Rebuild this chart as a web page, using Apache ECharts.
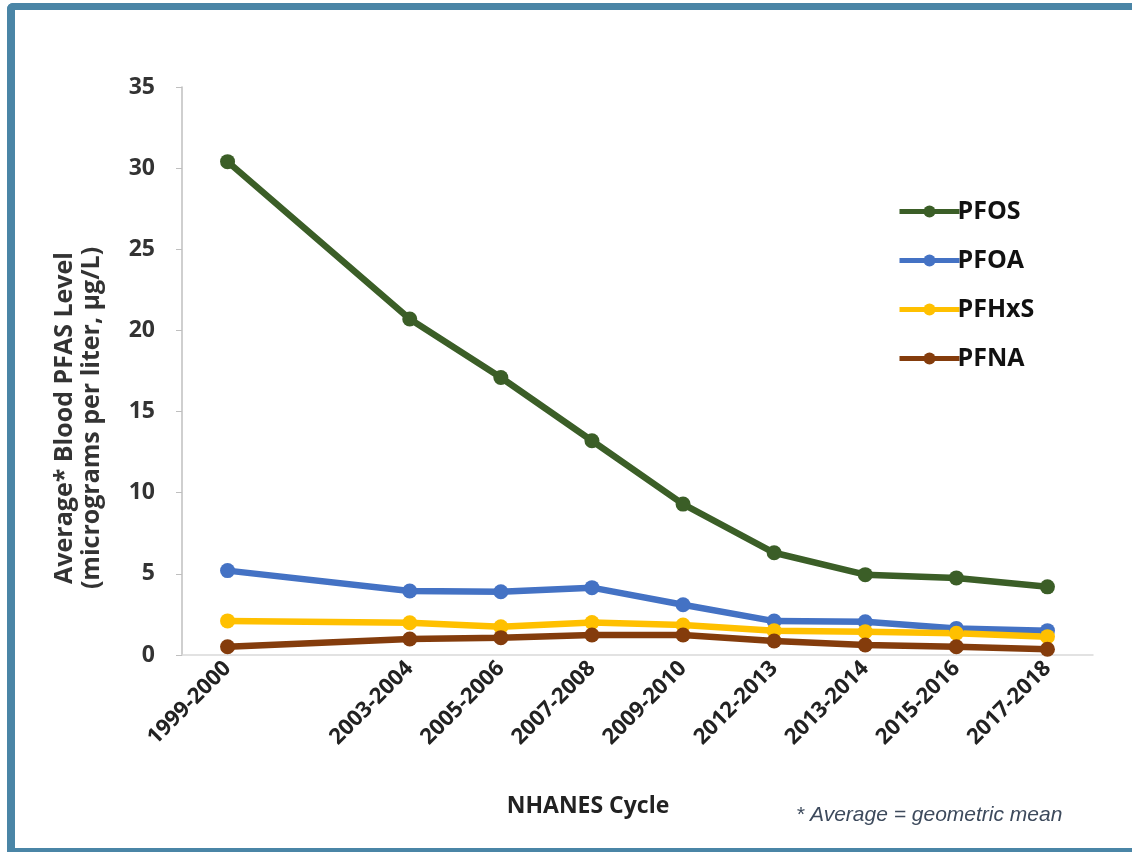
<!DOCTYPE html>
<html>
<head>
<meta charset="utf-8">
<script src="https://cdn.jsdelivr.net/npm/echarts@6/dist/echarts.min.js"></script>
<style>
  html, body { margin: 0; padding: 0; background: #ffffff; }
  #chart { position: absolute; left: 0; top: 0; width: 1132px; height: 852px; }
  #frame { position: absolute; left: 7px; top: 3px; width: 1140px; height: 838px;
           border-left: 8px solid #4a85a6; border-top: 7px solid #4a85a6; border-bottom: 4px solid #4a85a6;
           border-top-left-radius: 6px; pointer-events: none; }
</style>
</head>
<body>
<div id="chart"></div>
<div id="frame"></div>
<script>
const categories = ['1999-2000', '', '2003-2004', '2005-2006', '2007-2008', '2009-2010', '2012-2013', '2013-2014', '2015-2016', '2017-2018'];
const pfos  = [30.4, null, 20.7, 17.1, 13.2, 9.3, 6.3, 4.95, 4.75, 4.2];
const pfoa  = [5.2, null, 3.94, 3.9, 4.15, 3.1, 2.09, 2.05, 1.64, 1.5];
const pfhxs = [2.1, null, 1.99, 1.74, 2.0, 1.85, 1.5, 1.44, 1.34, 1.13];
const pfna  = [0.51, null, 0.99, 1.07, 1.23, 1.23, 0.86, 0.62, 0.51, 0.35];
const yTicks = [0, 5, 10, 15, 20, 25, 30, 35];

const chart = echarts.init(document.getElementById('chart'));
const mk = (name, data, color) => ({
  name, type: 'line', data, connectNulls: true,
  symbol: 'circle', symbolSize: 15,
  lineStyle: { width: 6.5, color },
  itemStyle: { color },
  z: 2
});
chart.setOption({
  animation: false,
  backgroundColor: '#ffffff',
  grid: { left: 182, right: 39, top: 87, bottom: 197, containLabel: false },
  legend: {
    orient: 'vertical', left: 892, top: 194,
    itemWidth: 60, itemHeight: 15, itemGap: 24,
    lineStyle: { width: 5 },
    textStyle: { fontFamily: 'Open Sans', fontWeight: 'bold', fontSize: 25, color: '#111', padding: [0, 0, 0, -7] },
    data: ['PFOS', 'PFOA', 'PFHxS', 'PFNA']
  },
  xAxis: {
    type: 'category', data: categories, boundaryGap: true,
    axisLine: { lineStyle: { color: '#d9d9d9', width: 1.5 } },
    axisTick: { show: false },
    axisLabel: { rotate: 45, interval: 0, margin: 10, fontFamily: 'Open Sans', fontWeight: 'bold', fontSize: 22, color: '#222' }
  },
  yAxis: {
    type: 'value', min: 0, max: 35, interval: 5,
    splitLine: { show: false },
    axisLine: { show: true, lineStyle: { color: '#bfbfbf', width: 1.5 } },
    axisTick: { show: true, length: 6, lineStyle: { color: '#bfbfbf' } },
    axisLabel: { margin: 27, fontFamily: 'Open Sans', fontWeight: 'bold', fontSize: 23, color: '#333',
      formatter: v => yTicks.includes(v) ? String(v) : '' }
  },
  graphic: [
    { type: 'text', x: 65, y: 418, rotation: Math.PI / 2,
      style: { text: 'Average* Blood PFAS Level', fontFamily: 'Open Sans', fontWeight: 'bold', fontSize: 25, fill: '#333', textAlign: 'center', textVerticalAlign: 'middle' } },
    { type: 'text', x: 92, y: 418, rotation: Math.PI / 2,
      style: { text: '(micrograms per liter, µg/L)', fontFamily: 'Open Sans', fontWeight: 'bold', fontSize: 25, fill: '#333', textAlign: 'center', textVerticalAlign: 'middle' } },
    { type: 'text', x: 588, y: 806,
      style: { text: 'NHANES Cycle', fontFamily: 'Open Sans', fontWeight: 'bold', fontSize: 23, fill: '#222', textAlign: 'center', textVerticalAlign: 'middle' } },
    { type: 'text', x: 796, y: 815,
      style: { text: '* Average = geometric mean', fontFamily: 'Liberation Sans', fontStyle: 'italic', fontSize: 21, fill: '#3d4a5c', textAlign: 'left', textVerticalAlign: 'middle' } }
  ],
  series: [
    mk('PFOS', pfos, '#3b5e27'),
    mk('PFOA', pfoa, '#4472c4'),
    mk('PFHxS', pfhxs, '#ffc000'),
    mk('PFNA', pfna, '#843c0c')
  ]
});
</script>
</body>
</html>
